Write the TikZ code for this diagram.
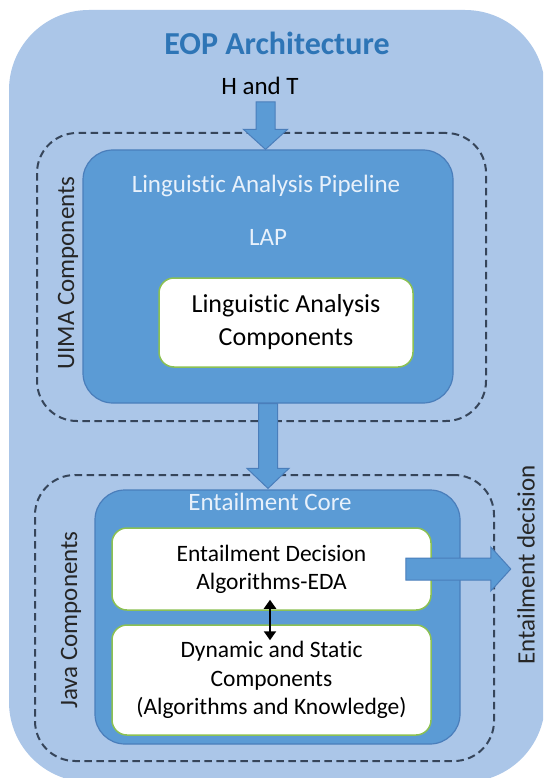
\documentclass[tikz,border=0pt]{standalone}
\usepackage{fontspec}
\setmainfont{Carlito}[Ligatures={NoCommon}]
\usetikzlibrary{calc,arrows.meta}
\definecolor{outerbg}{HTML}{ABC6E8}
\definecolor{midblue}{HTML}{5B9BD5}
\definecolor{midedge}{HTML}{4A7EBB}
\definecolor{titleblue}{HTML}{2E75B6}
\definecolor{lighttxt}{HTML}{E8F1FB}
\definecolor{dashcol}{HTML}{36455A}
\definecolor{greenedge}{HTML}{8CC152}
\tikzset{
  dashbox/.style={draw=dashcol, line width=2pt, dash pattern=on 7.5pt off 4.5pt, rounded corners=40pt, inner sep=0pt},
  bluebox/.style={draw=midedge, line width=1.2pt, fill=midblue, rounded corners=30pt, inner sep=0pt},
  whitebox/.style={draw=greenedge, line width=1.5pt, fill=white, rounded corners=15pt, inner sep=0pt, align=center, text=black},
  barrow/.style={draw=midedge, line width=1pt, fill=midblue, line join=miter},
  txt/.style={font=\fontsize{25}{28}\selectfont, inner sep=0pt},
  sidetxt/.style={font=\fontsize{25}{28}\selectfont, inner sep=0pt, rotate=90, text=black!85}
}
\begin{document}
\begin{tikzpicture}[x=1pt,y=-1pt]
\useasboundingbox (0,0) rectangle (543,778);
\clip (0,0) rectangle (543,778);
\fill[white] (0,0) rectangle (543,778);
% outer
\fill[outerbg, rounded corners=80pt] (9,10) rectangle (545,782);
\node[font=\fontsize{32}{34}\selectfont\bfseries, text=titleblue, anchor=base, inner sep=0pt] (title) at (277,55) {EOP Architecture};
\node[txt, anchor=base] (handt) at (260,95) {H and T};
% dashed groups
\node[dashbox, minimum width=449pt, minimum height=288pt] (uima) at (261.5,277) {};
\node[dashbox, minimum width=459pt, minimum height=286pt] (java) at (264.5,618) {};
% LAP
\node[bluebox, minimum width=370pt, minimum height=253pt] (lap) at (268,276.5) {};
\node[txt, anchor=base, text=lighttxt] (laptitle) at (266,193) {Linguistic Analysis Pipeline};
\node[txt, anchor=base, text=lighttxt] (lapname) at (268,245) {LAP};
\node[whitebox, minimum width=254pt, minimum height=89pt, font=\fontsize{26}{33}\selectfont] (lac) at (286,322.5) {Linguistic Analysis\\Components};
% Entailment core
\node[bluebox, minimum width=365pt, minimum height=254pt] (ec) at (277.5,617) {};
\node[txt, anchor=base, text=lighttxt] (ectitle) at (270,510) {Entailment Core};
\node[whitebox, minimum width=319pt, minimum height=82pt, font=\fontsize{23.5}{28}\selectfont] (eda) at (271.5,569) {Entailment Decision\\Algorithms-EDA};
\node[whitebox, minimum width=319pt, minimum height=110pt, font=\fontsize{23.5}{28.5}\selectfont] (dsc) at (271.5,680) {Dynamic and Static\\Components\\(Algorithms and Knowledge)};
% side labels
\node[sidetxt] (uimalbl) at (68,273) {UIMA Components};
\node[sidetxt] (javalbl) at (71,620) {Java Components};
\node[sidetxt] (declbl) at (526,565) {Entailment decision};
% top arrow: H and T -> LAP
\coordinate (tS) at (265.5,102);
\coordinate (tT) at (tS |- lap.north);
\draw[barrow] ($(tS)+(-9.5,0)$) -- ($(tT)+(-9.5,-20)$) -- ($(tT)+(-22,-20)$) -- (tT) -- ($(tT)+(22,-20)$) -- ($(tT)+(9.5,-20)$) -- ($(tS)+(9.5,0)$) -- cycle;
% middle arrow: LAP -> EC
\coordinate (mS) at (lap.south);
\coordinate (mT) at ($(lap.south |- ec.north)+(0,-1)$);
\draw[barrow] ($(mS)+(-9.5,0)$) -- ($(mT)+(-9.5,-20)$) -- ($(mT)+(-21,-20)$) -- (mT) -- ($(mT)+(21,-20)$) -- ($(mT)+(9.5,-20)$) -- ($(mS)+(9.5,0)$) -- cycle;
% right arrow: EDA -> decision
\coordinate (rS) at ($(eda.east)+(-26,0)$);
\coordinate (rT) at ($(eda.east)+(79,0)$);
\draw[barrow] ($(rS)+(0,-11)$) -- ($(rT)+(-20,-11)$) -- ($(rT)+(-20,-22)$) -- (rT) -- ($(rT)+(-20,22)$) -- ($(rT)+(-20,11)$) -- ($(rS)+(0,11)$) -- cycle;
% double arrow EDA <-> DSC
\draw[line width=2.2pt, black, {Triangle[width=12pt,length=9pt]}-{Triangle[width=12pt,length=9pt]}] ($(eda.south)+(-1.5,-11)$) -- ($(dsc.north)+(-1.5,16)$);
\end{tikzpicture}
\end{document}
